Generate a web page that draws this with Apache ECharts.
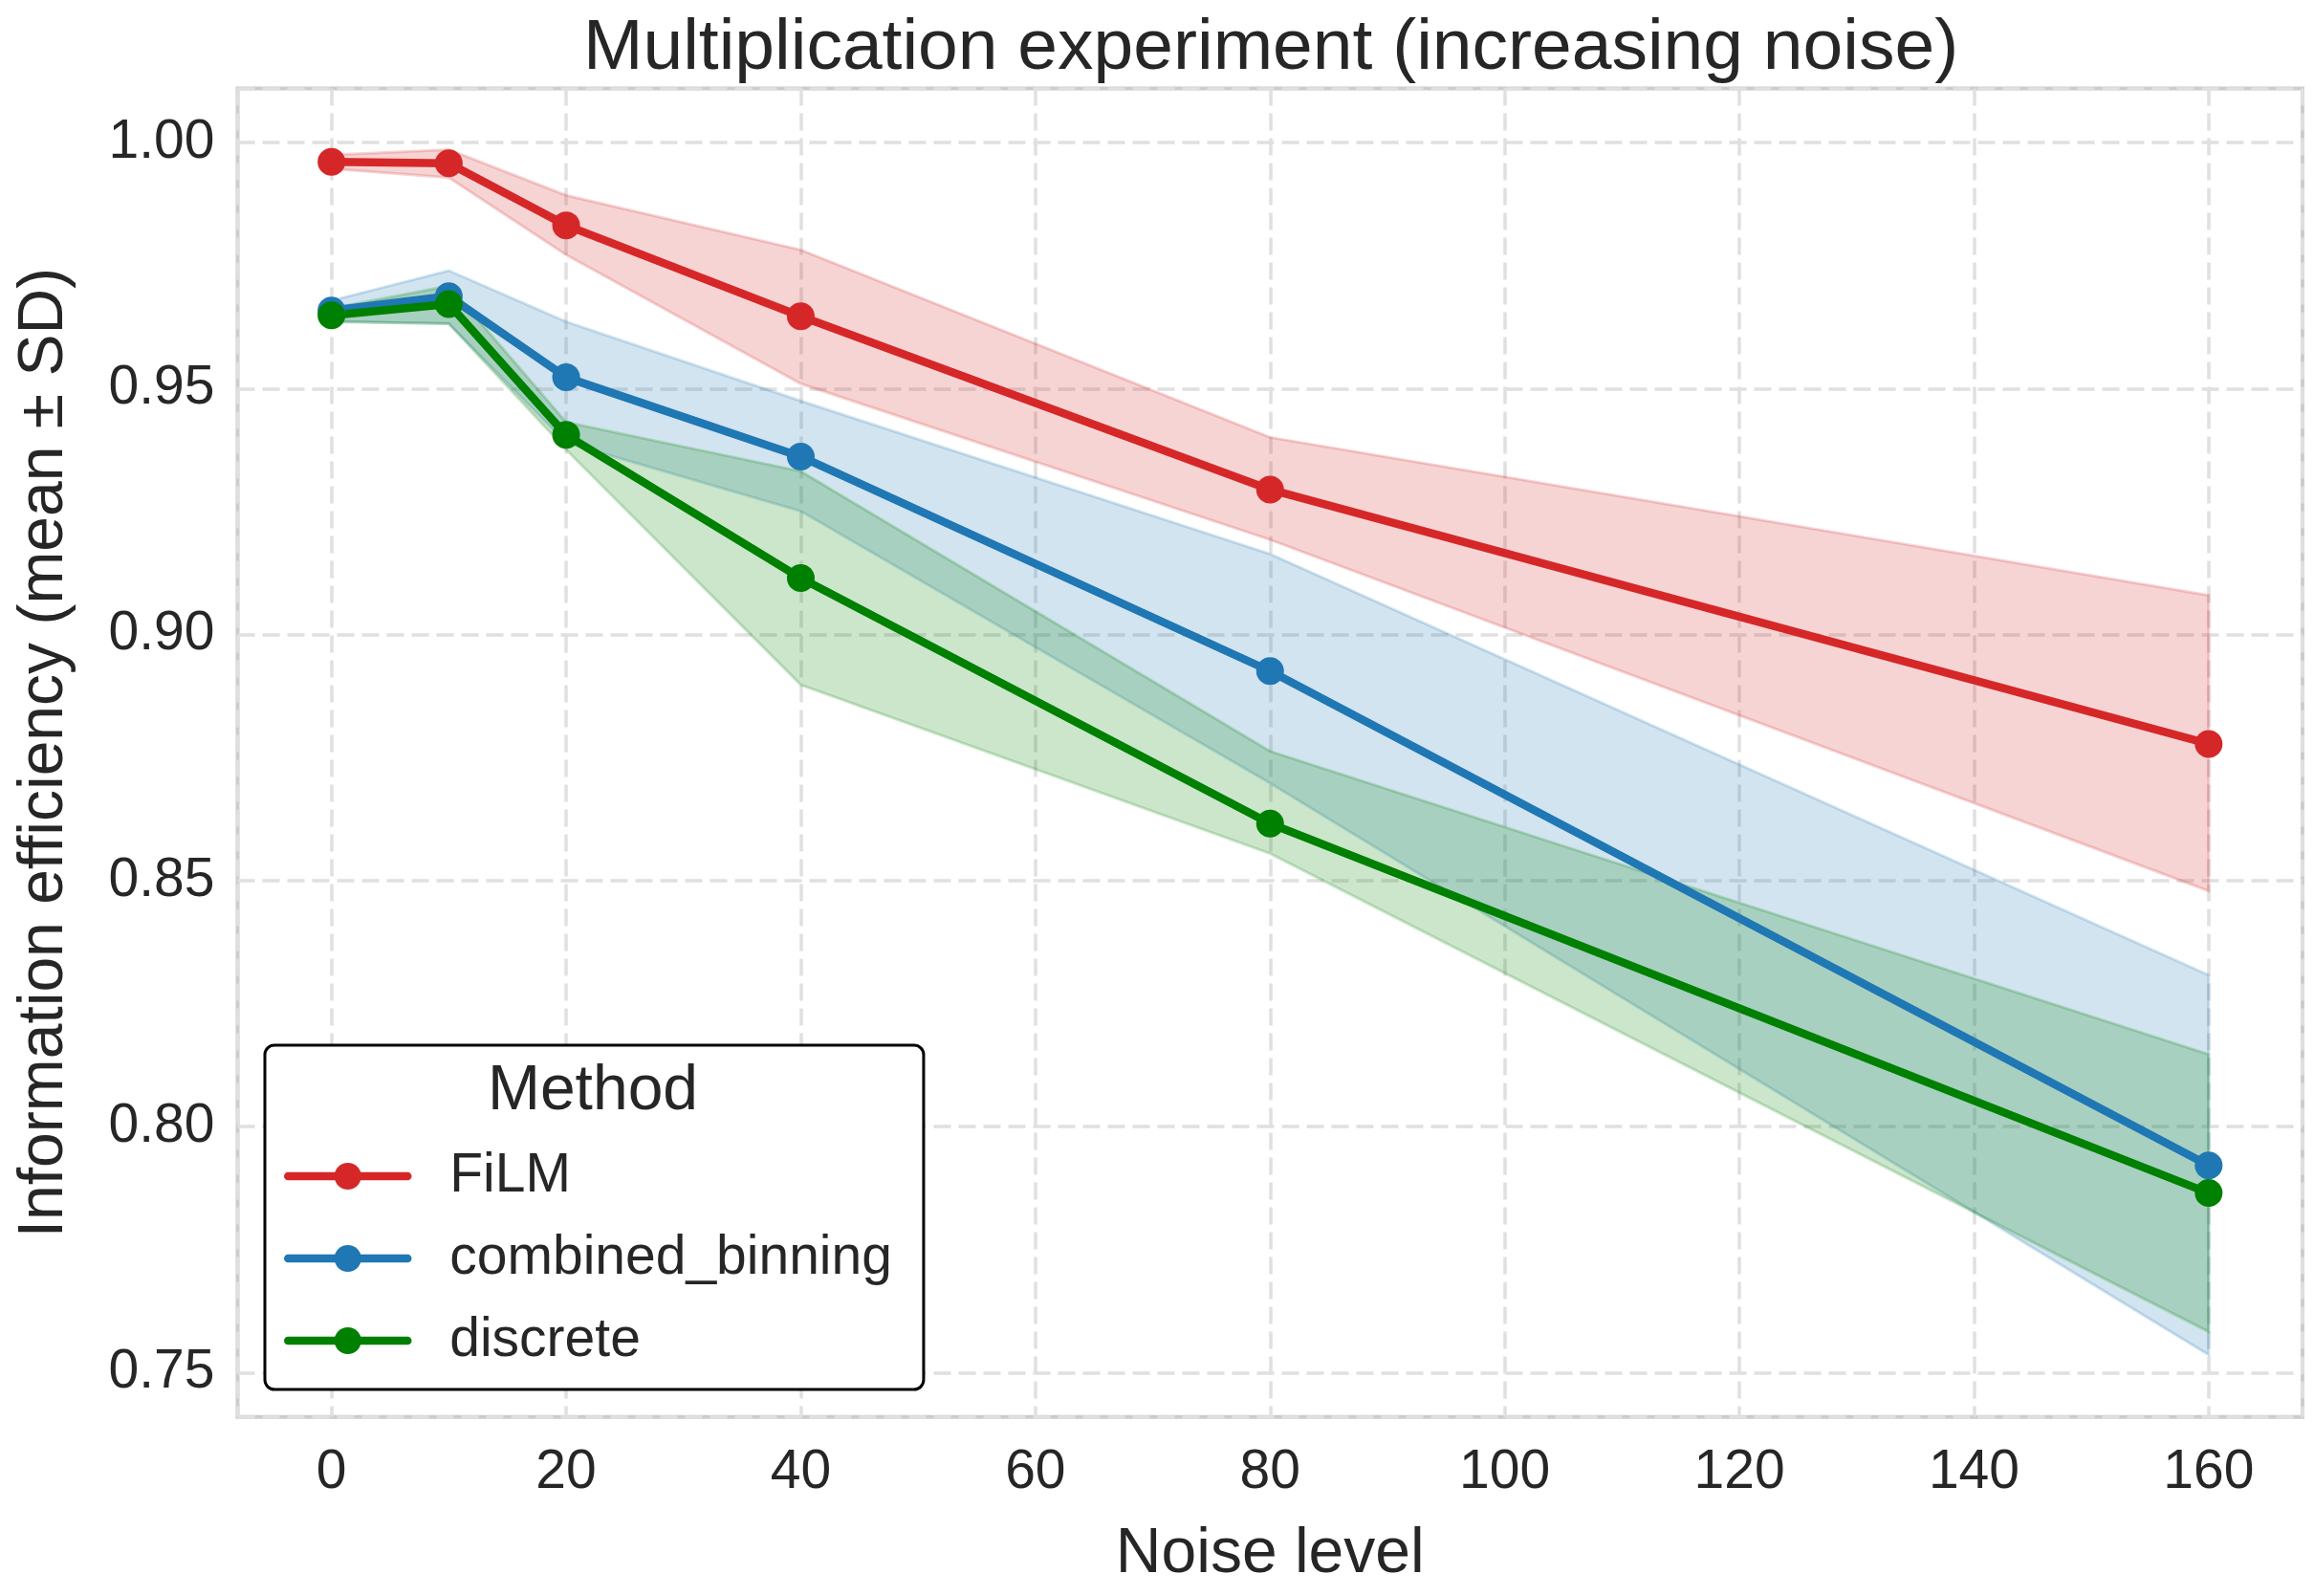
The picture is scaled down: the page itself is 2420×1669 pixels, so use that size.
<!DOCTYPE html>
<html>
<head>
<meta charset="utf-8">
<script src="https://cdn.jsdelivr.net/npm/echarts@6/dist/echarts.min.js"></script>
<style>
    html, body { margin: 0; padding: 0; background: #fff; }
    #chart { width: 2420px; height: 1669px; }
</style>
</head>
<body>
<div id="chart"></div>
<script>
// values
var noise = [0, 10, 20, 40, 80, 160];

var filmMean  = [0.9961, 0.9958, 0.9832, 0.9647, 0.9295, 0.8778];
var filmLower = [0.9947, 0.9929, 0.9772, 0.9510, 0.9193, 0.8479];
var filmUpper = [0.9975, 0.9986, 0.9893, 0.9782, 0.9401, 0.9080];

var binMean  = [0.9659, 0.9688, 0.9523, 0.9362, 0.8926, 0.7921];
var binLower = [0.9637, 0.9632, 0.9390, 0.9251, 0.8698, 0.7536];
var binUpper = [0.9679, 0.9740, 0.9636, 0.9475, 0.9164, 0.8308];

var discMean  = [0.9649, 0.9672, 0.9406, 0.9115, 0.8616, 0.7865];
var discLower = [0.9636, 0.9632, 0.9376, 0.8898, 0.8555, 0.7583];
var discUpper = [0.9663, 0.9709, 0.9432, 0.9332, 0.8763, 0.8147];

var methods = [
    { name: 'FiLM', color: '#d62728', band: 'rgba(214,39,40,0.2)', mean: filmMean, lower: filmLower, upper: filmUpper },
    { name: 'combined_binning', color: '#1f77b4', band: 'rgba(31,119,180,0.2)', mean: binMean, lower: binLower, upper: binUpper },
    { name: 'discrete', color: '#008000', band: 'rgba(0,128,0,0.2)', mean: discMean, lower: discLower, upper: discUpper }
];

var FONT = 'Liberation Sans, Arial, sans-serif';
var TEXT = '#262626';
var LW = 8.5;

function pairs(ys) {
    return noise.map(function (x, i) { return [x, ys[i]]; });
}

// one polygon per method: upper edge left->right, lower edge back
function bandRenderer(m) {
    return function (params, api) {
        if (params.dataIndex !== 0) return null;
        var pts = [];
        for (var i = 0; i < noise.length; i++) pts.push(api.coord([noise[i], m.upper[i]]));
        for (var j = noise.length - 1; j >= 0; j--) pts.push(api.coord([noise[j], m.lower[j]]));
        return {
            type: 'polygon',
            shape: { points: pts },
            style: { fill: m.band, stroke: m.band, lineWidth: 3 }
        };
    };
}

var series = [];
methods.forEach(function (m) {
    series.push({
        name: m.name + ' band',
        type: 'custom',
        data: noise.map(function (x, i) { return [x, m.lower[i], m.upper[i]]; }),
        encode: { x: 0, y: [1, 2] },
        renderItem: bandRenderer(m),
        silent: true,
        z: 1
    });
});
methods.forEach(function (m) {
    series.push({
        name: m.name,
        type: 'line',
        data: pairs(m.mean),
        symbol: 'circle',
        symbolSize: 29,
        showAllSymbol: true,
        z: 5,
        itemStyle: { color: m.color },
        lineStyle: { color: m.color, width: LW, cap: 'round' }
    });
});

var options = {
    animation: false,
    backgroundColor: '#ffffff',
    title: {
        text: 'Multiplication experiment (increasing noise)',
        left: 610,
        top: 14,
        padding: 0,
        textStyle: { fontFamily: FONT, fontSize: 75, fontWeight: 'normal', color: TEXT }
    },
    legend: {
        data: ['FiLM', 'combined_binning', 'discrete'],
        orient: 'vertical',
        left: 277,
        top: 1093,
        padding: [107, 33, 21, 20],
        itemWidth: 125,
        itemHeight: 35,
        itemGap: 26,
        borderColor: '#000000',
        borderWidth: 3,
        borderRadius: 10,
        backgroundColor: '#ffffff',
        lineStyle: { width: LW, cap: 'round' },
        textStyle: { fontFamily: FONT, fontSize: 57, color: TEXT, lineHeight: 60, padding: [0, 0, 0, 39] }
    },
    graphic: [{
        type: 'text',
        x: 620,
        y: 1142,
        z: 100,
        style: {
            text: 'Method',
            font: '66px ' + FONT,
            fill: TEXT,
            textAlign: 'center',
            textVerticalAlign: 'middle'
        }
    }],
    grid: {
        left: 248.5,
        right: 12,
        top: 92.6,
        bottom: 187.3,
        containLabel: false,
        outerBoundsMode: 'none',
        show: true,
        borderColor: '#cccccc',
        borderWidth: 4,
        backgroundColor: 'transparent'
    },
    xAxis: {
        type: 'value',
        min: -8,
        max: 168,
        splitNumber: 9,
        name: 'Noise level',
        nameLocation: 'middle',
        nameGap: 111,
        nameTextStyle: { fontFamily: FONT, fontSize: 66, color: TEXT },
        axisLine: { show: false },
        axisTick: { show: false },
        axisLabel: {
            margin: 30, fontFamily: FONT, fontSize: 57, color: TEXT,
            showMinLabel: false, showMaxLabel: false
        },
        splitLine: { show: true, lineStyle: { color: '#e0e0e0', width: 3.5, type: [18, 8] } }
    },
    yAxis: {
        type: 'value',
        min: 0.741,
        max: 1.011,
        splitNumber: 5,
        name: 'Information efficiency (mean ± SD)',
        nameLocation: 'middle',
        nameGap: 169,
        nameTextStyle: { fontFamily: FONT, fontSize: 66, color: TEXT },
        axisLine: { show: false },
        axisTick: { show: false },
        axisLabel: {
            margin: 24, fontFamily: FONT, fontSize: 57, color: TEXT,
            showMinLabel: false, showMaxLabel: false,
            formatter: function (v) { return v.toFixed(2); }
        },
        splitLine: { show: true, lineStyle: { color: '#e0e0e0', width: 3.5, type: [18, 8] } }
    },
    series: series
};

var myChart = echarts.init(document.getElementById('chart'));
myChart.setOption(options);
</script>
</body>
</html>
